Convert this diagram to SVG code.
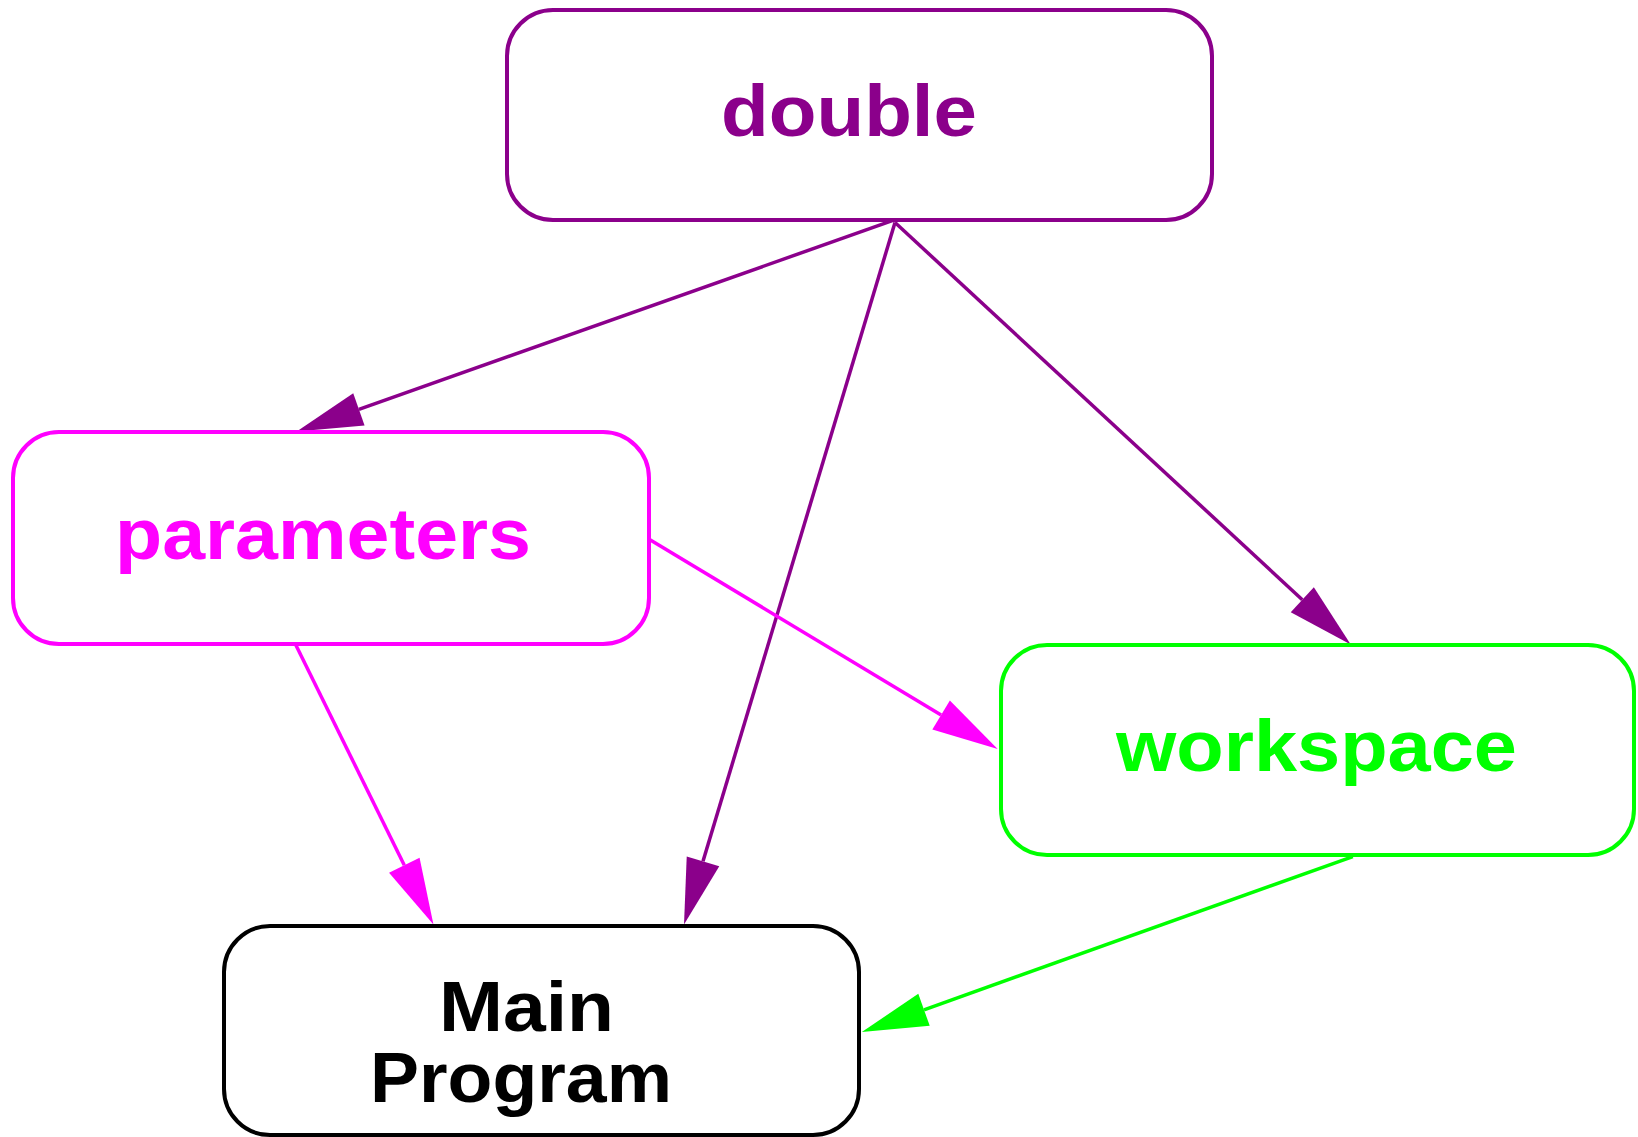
<svg xmlns="http://www.w3.org/2000/svg" width="1638" height="1137" viewBox="0 0 1638 1137">
  <style>
    .box { fill: #ffffff; stroke-width: 4; }
    .lbl { font-family: "Liberation Sans", Arial, sans-serif; font-weight: bold; font-size: 72px; }
    .lbl2 { font-family: "Liberation Sans", Arial, sans-serif; font-weight: bold; font-size: 70px; }
    .edge { fill: none; stroke-width: 3.5; }
    .purple { stroke: #8b008b; }
    .magenta { stroke: #ff00ff; }
    .green { stroke: #00ff00; }
  </style>
  <defs>
    <marker id="ah-purple" markerUnits="userSpaceOnUse" markerWidth="70" markerHeight="40" refX="0" refY="20" orient="auto" overflow="visible">
      <path d="M0,3 L66,20 L0,37 Z" fill="#8b008b"/>
    </marker>
    <marker id="ah-magenta" markerUnits="userSpaceOnUse" markerWidth="70" markerHeight="40" refX="0" refY="20" orient="auto" overflow="visible">
      <path d="M0,3 L66,20 L0,37 Z" fill="#ff00ff"/>
    </marker>
    <marker id="ah-green" markerUnits="userSpaceOnUse" markerWidth="70" markerHeight="40" refX="0" refY="20" orient="auto" overflow="visible">
      <path d="M0,3 L66,20 L0,37 Z" fill="#00ff00"/>
    </marker>
  </defs>
  <rect width="1638" height="1137" fill="#ffffff"/>

  <g id="connectors">
    <path class="edge purple" d="M893,220.4 L358.9,409.4" marker-end="url(#ah-purple)"/>
    <path class="edge purple" d="M895,222.5 L703,861.3" marker-end="url(#ah-purple)"/>
    <path class="edge purple" d="M895,222.5 L1302.3,599.7" marker-end="url(#ah-purple)"/>
    <path class="edge magenta" d="M648.7,539 L941.1,715" marker-end="url(#ah-magenta)"/>
    <path class="edge magenta" d="M295.6,644.5 L404.3,865.3" marker-end="url(#ah-magenta)"/>
    <path class="edge green" d="M1352.8,856.6 L924,1009.8" marker-end="url(#ah-green)"/>
  </g>

  <g id="double">
    <rect class="box" x="507" y="10" width="705" height="210" rx="46" ry="46" stroke="#8b008b"/>
    <text class="lbl" x="721" y="136" fill="#8b008b" textLength="256" lengthAdjust="spacingAndGlyphs">double</text>
  </g>

  <g id="parameters">
    <rect class="box" x="13" y="432" width="636" height="212" rx="46" ry="46" stroke="#ff00ff"/>
    <text class="lbl" x="115" y="559" fill="#ff00ff" textLength="416" lengthAdjust="spacingAndGlyphs">parameters</text>
  </g>

  <g id="workspace">
    <rect class="box" x="1001" y="645" width="633" height="210" rx="46" ry="46" stroke="#00ff00"/>
    <text class="lbl" x="1116" y="771" fill="#00ff00" textLength="401" lengthAdjust="spacingAndGlyphs">workspace</text>
  </g>

  <g id="main-program">
    <rect class="box" x="224" y="926" width="635" height="209" rx="46" ry="46" stroke="#000000"/>
    <text class="lbl2" x="439" y="1031" fill="#000000" textLength="175" lengthAdjust="spacingAndGlyphs">Main</text>
    <text class="lbl2" x="370" y="1102" fill="#000000" textLength="302" lengthAdjust="spacingAndGlyphs">Program</text>
  </g>
</svg>
